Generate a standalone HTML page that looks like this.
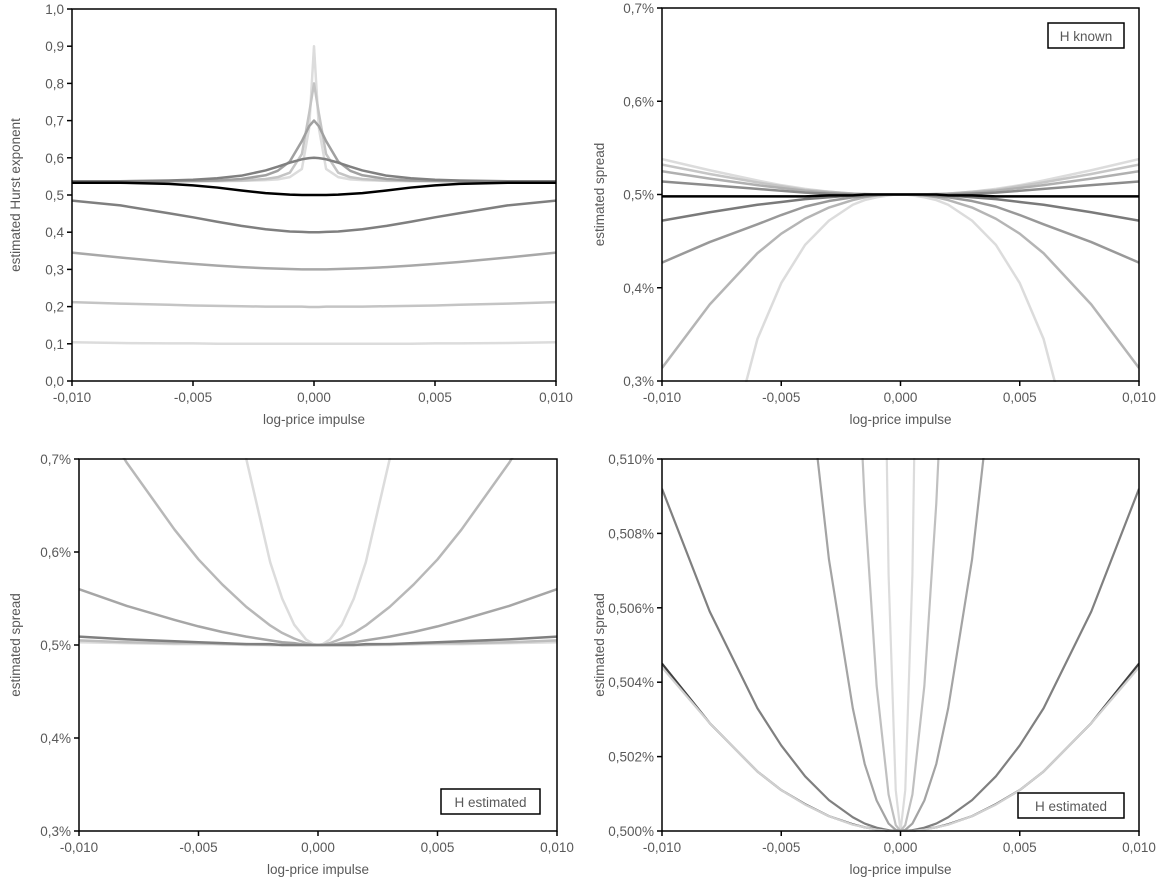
<!DOCTYPE html>
<html><head><meta charset="utf-8">
<style>
html,body{margin:0;padding:0;background:#fff;}
svg{display:block;font-family:"Liberation Sans",sans-serif;}
text{fill:#595959;font-size:13.5px;}
</style></head>
<body>
<svg id="chart" width="1161" height="885" viewBox="0 0 1161 885"></svg>
<script>
// shared |x| grid (curves are symmetric; values given at x >= 0)
const xGrid = [0,0.0002,0.0005,0.001,0.0015,0.002,0.003,0.004,0.005,0.006,0.008,0.010];
const xTicks = [-0.010,-0.005,0,0.005,0.010];
const xTickLabels = ["-0,010","-0,005","0,000","0,005","0,010"];

// Panel 1: estimated Hurst exponent
const p1Ticks = [0,0.1,0.2,0.3,0.4,0.5,0.6,0.7,0.8,0.9,1.0];
const p1Labels = ["0,0","0,1","0,2","0,3","0,4","0,5","0,6","0,7","0,8","0,9","1,0"];
const p1H01 = [.100,.100,.100,.100,.100,.100,.100,.100,.101,.101,.102,.104];
const p1H02 = [.199,.199,.200,.200,.200,.200,.201,.202,.203,.205,.208,.212];
const p1H03 = [.300,.300,.300,.301,.302,.303,.306,.310,.315,.320,.332,.345];
const p1H04 = [.400,.400,.401,.402,.405,.408,.417,.428,.440,.451,.472,.485];
const p1H05 = [.500,.500,.500,.501,.503,.505,.512,.520,.526,.530,.533,.533];
const p1H06 = [.600,.599,.596,.587,.576,.566,.552,.545,.541,.539,.537,.537];
const p1H07 = [.700,.685,.645,.590,.565,.553,.543,.539,.538,.537,.537,.537];
const p1H08 = [.800,.720,.610,.560,.548,.543,.539,.538,.537,.537,.537,.537];
const p1H09 = [.900,.680,.570,.548,.542,.540,.538,.537,.537,.537,.537,.537];

// Panel 2: estimated spread (%), H known
const p2Ticks = [0.3,0.4,0.5,0.6,0.7];
const p2Labels = ["0,3%","0,4%","0,5%","0,6%","0,7%"];
const p2Up4 = [.500,.500,.500,.500,.501,.501,.503,.506,.510,.515,.526,.538];
const p2Up3 = [.500,.500,.500,.500,.500,.501,.503,.505,.509,.513,.522,.532];
const p2Up2 = [.500,.500,.500,.500,.500,.501,.502,.504,.507,.510,.517,.525];
const p2Up1 = [.500,.500,.500,.500,.500,.500,.501,.502,.504,.506,.510,.514];
const p2Mid = [.500,.500,.500,.500,.500,.499,.499,.498,.498,.498,.498,.498];
const p2Dn1 = [.500,.500,.500,.500,.499,.499,.497,.495,.492,.489,.481,.472];
const p2Dn2 = [.500,.500,.500,.499,.498,.497,.493,.487,.478,.468,.449,.427];
const p2Dn3 = [.500,.500,.500,.499,.497,.494,.486,.474,.458,.437,.382,.314];
const p2Dn4 = [.500,.500,.499,.497,.494,.489,.472,.446,.405,.345,.150,.000];

// Panel 3: estimated spread (%), H estimated
const p3Ticks = [0.3,0.4,0.5,0.6,0.7];
const p3Labels = ["0,3%","0,4%","0,5%","0,6%","0,7%"];
const p3N1 = [.500,.501,.506,.522,.550,.589,.700,.850,1.00,1.20,1.60,2.00];
const p3N2 = [.500,.500,.502,.507,.513,.521,.541,.565,.592,.624,.696,.780];
const p3N3 = [.500,.500,.500,.502,.503,.505,.509,.514,.520,.527,.542,.560];
const p3N4 = [.500,.500,.500,.500,.500,.501,.501,.502,.503,.504,.506,.509];
const p3N5 = [.500,.500,.500,.500,.500,.500,.501,.501,.502,.502,.503,.505];
const p3N6 = [.500,.500,.500,.500,.500,.500,.500,.501,.501,.501,.502,.503];

// Panel 4: estimated spread (%), H estimated, zoomed
const p4Ticks = [0.500,0.502,0.504,0.506,0.508,0.510];
const p4Labels = ["0,500%","0,502%","0,504%","0,506%","0,508%","0,510%"];
const p4M1 = [.5000,.5011,.5069,.5278,.5600,.6000,.7000,.8000,.9000,1.000,1.200,1.400];
const p4M2 = [.5000,.50016,.50098,.5039,.5088,.5156,.5350,.5600,.6000,.6400,.7000,.8000];
const p4M3 = [.5000,.50003,.5002,.50082,.5018,.5033,.5073,.5130,.5200,.5290,.5500,.5800];
const p4M4 = [.5000,.5000,.50002,.50009,.5002,.50037,.50083,.50147,.5023,.5033,.5059,.5092];
const p4M5 = [.5000,.5000,.5000,.50005,.5001,.50018,.5004,.50072,.5011,.5016,.5029,.5045];
const p4M6 = [.5000,.5000,.5000,.50004,.5001,.50017,.5004,.50071,.5011,.5016,.5029,.5044];

const NS = "http://www.w3.org/2000/svg";
const svg = document.getElementById('chart');
function el(tag, attrs, parent){
  const e = document.createElementNS(NS, tag);
  for (const k in attrs) e.setAttribute(k, attrs[k]);
  (parent||svg).appendChild(e);
  return e;
}

function panel(cfg){
  const g = el('g', {});
  
  
  const xs = v => cfg.x0 + (v - (-0.01)) / 0.02 * (cfg.x1 - cfg.x0);
  const ys = v => cfg.yb - (v - cfg.ymin) / (cfg.ymax - cfg.ymin) * (cfg.yb - cfg.yt);
  const cid = 'clip-' + cfg.name;
  const cp = el('clipPath', {id: cid}, g);
  el('rect', {x: cfg.x0, y: cfg.yt - 1, width: cfg.x1 - cfg.x0, height: cfg.yb - cfg.yt + 2}, cp);
  const sg = el('g', {'clip-path': 'url(#' + cid + ')'}, g);
  cfg.series.forEach((s, i) => {
    const pts = [];
    for (let k = xGrid.length - 1; k >= 1; k--) pts.push([-xGrid[k], s.v[k]]);
    for (let k = 0; k < xGrid.length; k++) pts.push([xGrid[k], s.v[k]]);
    const d = pts.map((p, j) => (j ? 'L' : 'M') + xs(p[0]).toFixed(2) + ' ' + ys(p[1]).toFixed(2)).join(' ');
    const path = el('path', {d: d, fill: 'none', stroke: s.c, 'stroke-width': cfg.sw, 'stroke-linejoin': 'round'}, sg);
    
    
  });
  const box = el('rect', {x: cfg.x0, y: cfg.yt, width: cfg.x1 - cfg.x0, height: cfg.yb - cfg.yt, fill: 'none', stroke: '#000', 'stroke-width': 1.5}, g);
  
  
  cfg.yTicks.forEach((t, i) => {
    const y = ys(t);
    el('line', {x1: cfg.x0 - 5, x2: cfg.x0, y1: y, y2: y, stroke: '#000', 'stroke-width': 1.5}, g);
    const tx = el('text', {x: cfg.x0 - 8, y: y + 5, 'text-anchor': 'end'}, g);
    tx.textContent = cfg.yLabels[i];
    
    
  });
  xTicks.forEach((t, i) => {
    const x = xs(t);
    el('line', {x1: x, x2: x, y1: cfg.yb, y2: cfg.yb + 5, stroke: '#000', 'stroke-width': 1.5}, g);
    const tx = el('text', {x: x, y: cfg.yb + 21, 'text-anchor': 'middle'}, g);
    tx.textContent = xTickLabels[i];
    
    
  });
  const xt = el('text', {x: (cfg.x0 + cfg.x1) / 2, y: cfg.yb + 43, 'text-anchor': 'middle', 'font-size': 14.5}, g);
  xt.textContent = 'log-price impulse';
  
  
  const cy = (cfg.yt + cfg.yb) / 2;
  const yt = el('text', {x: cfg.ytx, y: cy, 'text-anchor': 'middle', 'font-size': 14.5, transform: 'rotate(-90 ' + cfg.ytx + ' ' + cy + ')'}, g);
  yt.textContent = cfg.yTitle;
  
  
  if (cfg.tag) {
    const tb = el('rect', {x: cfg.tag.x, y: cfg.tag.y, width: cfg.tag.w, height: 25, fill: '#fff', stroke: '#000', 'stroke-width': 1.5}, g);
    
    
    const tt = el('text', {x: cfg.tag.x + cfg.tag.w / 2, y: cfg.tag.y + 18, 'text-anchor': 'middle', 'font-size': 14.5}, g);
    tt.textContent = cfg.tag.t;
    
    
  }
}

panel({name: 'hurst-panel', x0: 72, x1: 556, yt: 9, yb: 381, ymin: 0, ymax: 1, sw: 2.5, ytx: 20,
  yTicks: p1Ticks, yLabels: p1Labels, yTitle: 'estimated Hurst exponent',
  series: [
    {v: p1H01, c: '#dcdcdc'}, {v: p1H02, c: '#c4c4c4'}, {v: p1H03, c: '#a8a8a8'},
    {v: p1H04, c: '#7f7f7f'}, {v: p1H09, c: '#dcdcdc'}, {v: p1H08, c: '#c4c4c4'},
    {v: p1H07, c: '#a0a0a0'}, {v: p1H06, c: '#808080'}, {v: p1H05, c: '#000000'}
  ]});

panel({name: 'spread-h-known-panel', x0: 662, x1: 1139, yt: 8, yb: 381, ymin: 0.3, ymax: 0.7, sw: 2.5, ytx: 604,
  yTicks: p2Ticks, yLabels: p2Labels, yTitle: 'estimated spread',
  tag: {x: 1048, y: 23, w: 76, t: 'H known'},
  series: [
    {v: p2Dn4, c: '#dcdcdc'}, {v: p2Dn3, c: '#b5b5b5'}, {v: p2Dn2, c: '#999999'},
    {v: p2Dn1, c: '#7a7a7a'}, {v: p2Up4, c: '#dcdcdc'}, {v: p2Up3, c: '#c6c6c6'},
    {v: p2Up2, c: '#b0b0b0'}, {v: p2Up1, c: '#8c8c8c'}, {v: p2Mid, c: '#000000'}
  ]});

panel({name: 'spread-h-estimated-panel', x0: 79, x1: 557, yt: 459, yb: 831, ymin: 0.3, ymax: 0.7, sw: 2.5, ytx: 20,
  yTicks: p3Ticks, yLabels: p3Labels, yTitle: 'estimated spread',
  tag: {x: 441, y: 789, w: 99, t: 'H estimated'},
  series: [
    {v: p3N1, c: '#dcdcdc'}, {v: p3N2, c: '#b8b8b8'}, {v: p3N3, c: '#a6a6a6'},
    {v: p3N6, c: '#dcdcdc'}, {v: p3N5, c: '#bdbdbd'}, {v: p3N4, c: '#7f7f7f'}
  ]});

panel({name: 'spread-h-estimated-zoom-panel', x0: 662, x1: 1139, yt: 459, yb: 831, ymin: 0.5, ymax: 0.51, sw: 2.2, ytx: 604,
  yTicks: p4Ticks, yLabels: p4Labels, yTitle: 'estimated spread',
  tag: {x: 1018, y: 793, w: 106, t: 'H estimated'},
  series: [
    {v: p4M1, c: '#dcdcdc'}, {v: p4M2, c: '#c0c0c0'}, {v: p4M3, c: '#a4a4a4'},
    {v: p4M4, c: '#808080'}, {v: p4M5, c: '#404040'}, {v: p4M6, c: '#d0d0d0'}
  ]});
</script>
</body></html>
